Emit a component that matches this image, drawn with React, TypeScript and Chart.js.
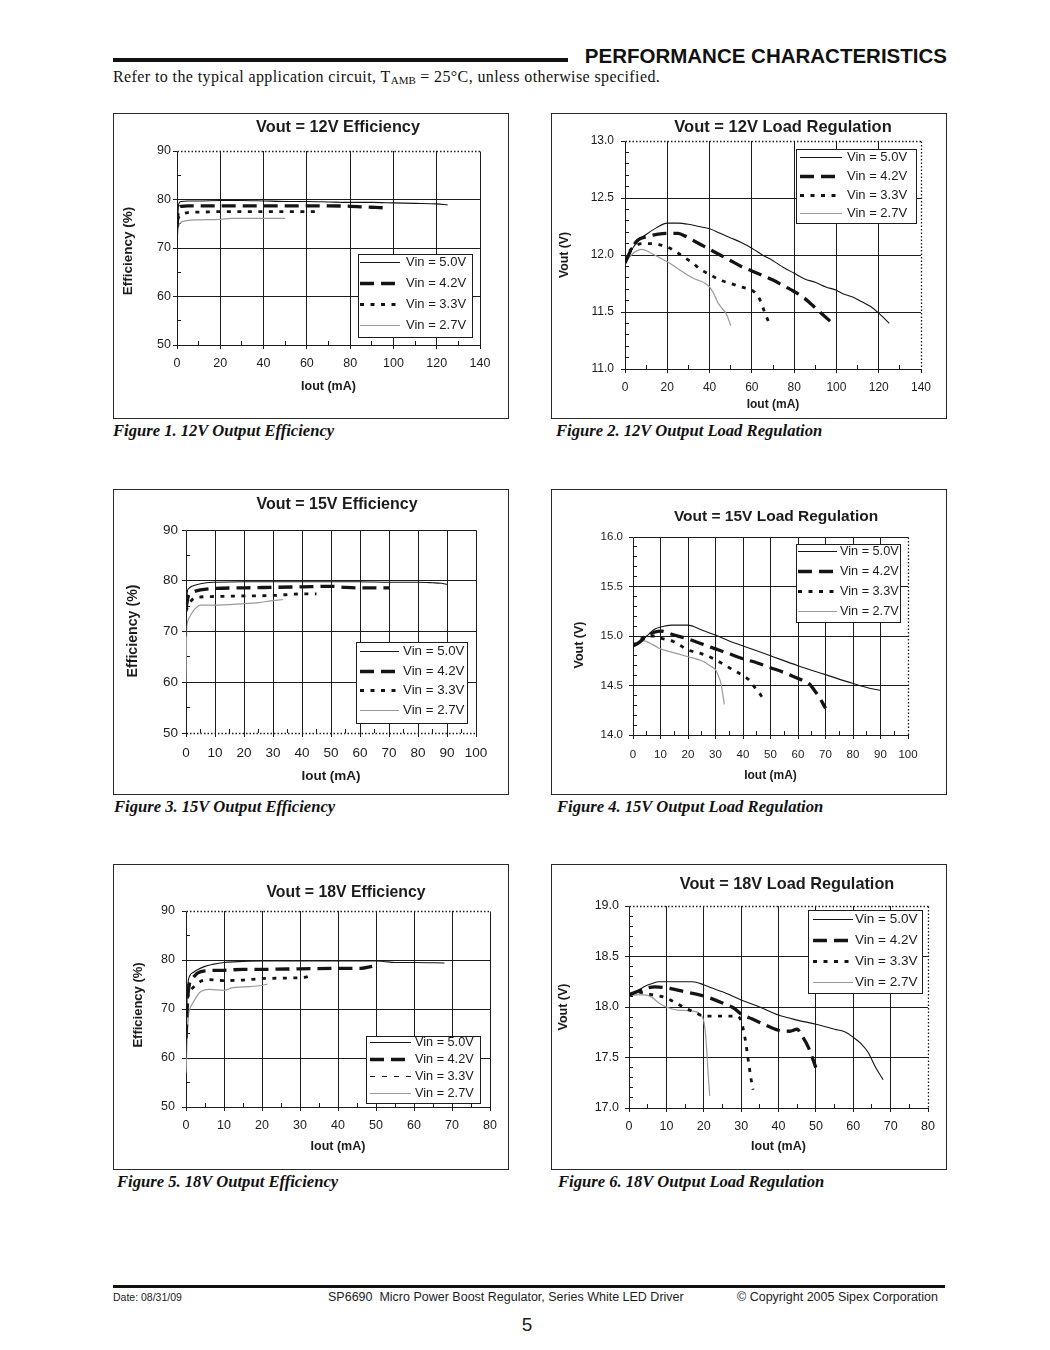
import React, { useEffect, useRef } from "react";
import { Chart, registerables } from "chart.js";

Chart.register(...registerables);

const SANS = '"Liberation Sans", Arial, Helvetica, sans-serif';
const SERIF = '"Liberation Serif", "Times New Roman", Times, serif';
const INK = "#1c1c1c";

// ---------- legend labels ----------
const SERIES_LABELS = ["Vin = 5.0V", "Vin = 4.2V", "Vin = 3.3V", "Vin = 2.7V"];

// ---------- Figure 1: Vout = 12V Efficiency ----------
const f1Vin50Iout = [0, 0.2, 0.5, 1, 2, 5, 10, 20, 30, 40, 50, 60, 70, 80, 90, 100, 110, 120, 125];
const f1Vin50Eff = [64, 72, 77.5, 79.3, 79.6, 79.7, 79.7, 79.8, 79.8, 79.7, 79.6, 79.6, 79.5, 79.4, 79.4, 79.3, 79.2, 79.1, 78.9];
const f1Vin42Iout = [0, 0.3, 0.6, 1, 2, 5, 10, 20, 30, 40, 50, 60, 70, 80, 85, 90, 95, 98];
const f1Vin42Eff = [74.3, 76.5, 78, 78.4, 78.6, 78.7, 78.7, 78.7, 78.7, 78.7, 78.7, 78.7, 78.7, 78.6, 78.5, 78.4, 78.3, 78.2];
const f1Vin33Iout = [0.3, 0.6, 1, 2, 3, 5, 8, 10, 20, 30, 40, 50, 60, 65];
const f1Vin33Eff = [75.8, 76.2, 76.5, 76.9, 77.1, 77.3, 77.4, 77.4, 77.5, 77.5, 77.5, 77.5, 77.5, 77.5];
const f1Vin27Iout = [0, 0.2, 0.5, 1, 2, 3, 5, 10, 20, 25, 30, 40, 50];
const f1Vin27Eff = [69.5, 72.5, 74, 74.8, 75.3, 75.5, 75.7, 75.8, 75.9, 76.1, 76.1, 76.1, 76.1];

// ---------- Figure 2: Vout = 12V Load Regulation ----------
const f2Vin50Iout = [0, 3, 6, 10, 15, 20, 25, 30, 35, 40, 45, 50, 55, 60, 65, 70, 75, 80, 85, 90, 95, 100, 103, 108, 112, 116, 120, 125];
const f2Vin50Vout = [11.93, 12.04, 12.12, 12.18, 12.24, 12.28, 12.28, 12.27, 12.25, 12.23, 12.19, 12.15, 12.11, 12.06, 12.0, 11.95, 11.89, 11.84, 11.79, 11.76, 11.72, 11.69, 11.66, 11.63, 11.59, 11.55, 11.49, 11.4];
const f2Vin42Iout = [0, 3, 6, 10, 15, 20, 25, 28, 32, 36, 40, 45, 50, 55, 60, 65, 70, 75, 80, 85, 88, 91, 94, 97];
const f2Vin42Vout = [11.93, 12.05, 12.13, 12.16, 12.18, 12.19, 12.19, 12.17, 12.13, 12.09, 12.05, 12.0, 11.95, 11.9, 11.86, 11.82, 11.78, 11.73, 11.68, 11.62, 11.57, 11.52, 11.47, 11.42];
const f2Vin33Iout = [0, 2, 5, 8, 12, 16, 20, 24, 28, 32, 36, 40, 45, 50, 55, 60, 62, 64, 66, 68];
const f2Vin33Vout = [11.95, 12.03, 12.08, 12.1, 12.1, 12.09, 12.07, 12.03, 11.98, 11.93, 11.87, 11.83, 11.78, 11.75, 11.72, 11.69, 11.66, 11.6, 11.5, 11.41];
const f2Vin27Iout = [0, 3, 5, 8, 12, 16, 20, 25, 30, 33, 36, 38, 40, 42, 44, 46, 48, 50];
const f2Vin27Vout = [11.93, 12.0, 12.03, 12.05, 12.02, 11.98, 11.94, 11.88, 11.82, 11.79, 11.77, 11.75, 11.72, 11.66, 11.58, 11.53, 11.48, 11.38];

// ---------- Figure 3: Vout = 15V Efficiency ----------
const f3Vin50Iout = [0, 0.2, 0.5, 1, 2, 3, 5, 7, 10, 20, 30, 40, 50, 60, 70, 80, 85, 88, 90];
const f3Vin50Eff = [69, 75, 78, 78.5, 78.9, 79.1, 79.4, 79.6, 79.7, 79.8, 79.8, 79.8, 79.8, 79.8, 79.7, 79.7, 79.6, 79.5, 79.3];
const f3Vin42Iout = [0, 0.3, 0.6, 1, 2, 3, 5, 10, 20, 30, 40, 50, 55, 60, 70];
const f3Vin42Eff = [74.5, 75.5, 76.5, 77.2, 77.6, 77.9, 78.2, 78.5, 78.6, 78.7, 78.8, 78.9, 78.7, 78.6, 78.6];
const f3Vin33Iout = [0, 0.5, 1, 2, 3, 5, 10, 20, 30, 40, 45];
const f3Vin33Eff = [74, 74.8, 75.3, 76.2, 76.6, 76.8, 76.9, 77.0, 77.1, 77.4, 77.4];
const f3Vin27Iout = [0, 0.2, 0.5, 1, 2, 3, 5, 10, 20, 25, 30, 33.5];
const f3Vin27Eff = [60, 70, 71.8, 72.6, 73.6, 74.4, 75.2, 75.2, 75.5, 75.7, 76.1, 76.3];

// ---------- Figure 4: Vout = 15V Load Regulation ----------
const f4Vin50Iout = [0, 2, 5, 8, 10, 14, 20, 25, 30, 35, 40, 50, 60, 70, 80, 85, 90];
const f4Vin50Vout = [14.9, 14.92, 15.0, 15.07, 15.09, 15.11, 15.11, 15.06, 15.01, 14.95, 14.9, 14.8, 14.7, 14.61, 14.52, 14.48, 14.45];
const f4Vin42Iout = [0, 2, 5, 8, 10, 15, 20, 25, 30, 35, 40, 45, 50, 55, 60, 62, 64, 66, 68, 70];
const f4Vin42Vout = [14.9, 14.93, 15.0, 15.04, 15.05, 15.01, 14.97, 14.92, 14.87, 14.82, 14.77, 14.73, 14.68, 14.63, 14.57, 14.55, 14.52, 14.45, 14.37, 14.27];
const f4Vin33Iout = [0, 2, 5, 8, 10, 15, 20, 25, 30, 35, 40, 42, 44, 46, 47];
const f4Vin33Vout = [14.9, 14.95, 15.0, 15.0, 14.98, 14.94, 14.86, 14.82, 14.76, 14.68, 14.6, 14.56, 14.49, 14.42, 14.38];
const f4Vin27Iout = [0, 2, 4, 6, 8, 10, 15, 20, 25, 28, 30, 31, 32, 32.6, 33.2];
const f4Vin27Vout = [14.9, 14.93, 14.95, 14.93, 14.9, 14.87, 14.83, 14.79, 14.75, 14.7, 14.66, 14.6, 14.52, 14.42, 14.31];

// ---------- Figure 5: Vout = 18V Efficiency ----------
const f5Vin50Iout = [0, 0.2, 0.5, 1, 2, 3, 5, 7, 10, 15, 20, 30, 40, 50, 52, 55, 60, 68];
const f5Vin50Eff = [60, 70, 75, 76.8, 77.5, 78, 78.7, 79.1, 79.5, 79.7, 79.8, 79.8, 79.8, 79.8, 79.7, 79.5, 79.5, 79.4];
const f5Vin42Iout = [0, 0.3, 0.6, 1, 2, 3, 5, 10, 15, 20, 30, 40, 46, 49];
const f5Vin42Eff = [64, 70, 73.5, 75.5, 76.5, 77.3, 77.8, 77.9, 78.1, 78.1, 78.2, 78.3, 78.3, 78.7];
const f5Vin33Iout = [0, 0.5, 1, 2, 4, 6, 10, 15, 20, 25, 30, 32, 33];
const f5Vin33Eff = [70, 72.5, 73.5, 74.5, 75.7, 76, 75.8, 75.9, 76.2, 76.3, 76.4, 76.6, 77];
const f5Vin27Iout = [0, 0.3, 0.7, 1, 2, 3, 4, 6, 10, 11, 12, 15, 20, 21.5];
const f5Vin27Eff = [57, 64, 69, 70, 71.5, 72.8, 73.6, 74, 73.8, 74, 74.3, 74.5, 74.8, 75.1];

// ---------- Figure 6: Vout = 18V Load Regulation ----------
const f6Vin50Iout = [0, 2, 4, 6, 8, 10, 17, 20, 22, 25, 30, 35, 40, 45, 50, 55, 58, 60, 62, 64, 66, 68];
const f6Vin50Vout = [18.12, 18.15, 18.2, 18.23, 18.25, 18.25, 18.25, 18.22, 18.19, 18.15, 18.07, 18.0, 17.92, 17.87, 17.83, 17.78, 17.75, 17.7, 17.64, 17.55, 17.4, 17.28];
const f6Vin42Iout = [0, 2, 4, 7, 10, 15, 20, 25, 28, 30, 33, 36, 40, 43, 45, 46, 48, 50];
const f6Vin42Vout = [18.12, 18.15, 18.18, 18.2, 18.19, 18.15, 18.11, 18.04, 17.99, 17.93, 17.88, 17.83, 17.77, 17.76, 17.78, 17.73, 17.6, 17.4];
const f6Vin33Iout = [0, 2, 5, 8, 10, 12, 15, 18, 20, 25, 29, 30, 31, 32, 32.6, 33.2];
const f6Vin33Vout = [18.12, 18.15, 18.13, 18.11, 18.09, 18.05, 17.99, 17.94, 17.91, 17.91, 17.91, 17.86, 17.7, 17.45, 17.3, 17.18];
const f6Vin27Iout = [0, 2, 4, 6, 8, 10, 13, 17, 19, 20, 20.5, 20.8, 21.1, 21.4, 21.6];
const f6Vin27Vout = [18.11, 18.12, 18.12, 18.1, 18.04, 18.0, 17.97, 17.96, 17.93, 17.86, 17.72, 17.57, 17.38, 17.22, 17.12];

// ---------- styles ----------
const SERIES_STYLES = [
  { color: "#141414", width: 1.1, dash: [] as number[] },
  { color: "#141414", width: 3.3, dash: [14, 7] },
  { color: "#141414", width: 2.8, dash: [4, 6.5] },
  { color: "#9a9a9a", width: 1.2, dash: [] as number[] },
];

type Edge = "solid" | "dot";
interface LegendSpec {
  l: number; t: number; r: number; b: number;
  row0: number; gap: number; s0: number; s1: number; tx: number; size: number;
  thinDash3?: boolean;
}
interface Spec {
  id: string;
  left: number; top: number;
  area: { l: number; t: number; r: number; b: number };
  title: string; titleX: number; titleY: number; titleSize: number;
  yTitle: string; yTitleX: number; yTitleY: number; yTitleSize: number;
  xTitleY: number; xTitleSize: number;
  tickSize: number; yTickPad: number; xTickPad: number;
  xMax: number; xStep: number; xMinor: number;
  yMin: number; yMax: number; yStep: number; yMinor: number; yDec: number;
  edges: { top: Edge; right: Edge; bottom: Edge };
  legend: LegendSpec;
  xs: number[][]; ys: number[][];
}

const W = 396;
const H = 306;

const SPECS: Spec[] = [
  {
    id: "f1", left: 113, top: 113,
    area: { l: 64, t: 38, r: 367, b: 232 },
    title: "Vout = 12V Efficiency", titleX: 225, titleY: 15, titleSize: 16.3,
    yTitle: "Efficiency (%)", yTitleX: 15, yTitleY: 138, yTitleSize: 13.5,
    xTitleY: 274, xTitleSize: 12.5,
    tickSize: 12.5, yTickPad: 2, xTickPad: 7.5,
    xMax: 140, xStep: 20, xMinor: 10,
    yMin: 50, yMax: 90, yStep: 10, yMinor: 5, yDec: 0,
    edges: { top: "dot", right: "solid", bottom: "solid" },
    legend: { l: 245, t: 141, r: 359, b: 224, row0: 149, gap: 21, s0: 247, s1: 287, tx: 293, size: 13 },
    xs: [f1Vin50Iout, f1Vin42Iout, f1Vin33Iout, f1Vin27Iout],
    ys: [f1Vin50Eff, f1Vin42Eff, f1Vin33Eff, f1Vin27Eff],
  },
  {
    id: "f2", left: 551, top: 113,
    area: { l: 74, t: 28, r: 370, b: 256 },
    title: "Vout = 12V Load Regulation", titleX: 232, titleY: 14, titleSize: 16.5,
    yTitle: "Vout (V)", yTitleX: 14, yTitleY: 142, yTitleSize: 12.3,
    xTitleY: 292, xTitleSize: 12,
    tickSize: 12, yTickPad: 7, xTickPad: 7.8,
    xMax: 140, xStep: 20, xMinor: 10,
    yMin: 11, yMax: 13, yStep: 0.5, yMinor: 0.1, yDec: 1,
    edges: { top: "dot", right: "dot", bottom: "solid" },
    legend: { l: 245, t: 36, r: 365, b: 110, row0: 44, gap: 18.8, s0: 249, s1: 291, tx: 296, size: 13 },
    xs: [f2Vin50Iout, f2Vin42Iout, f2Vin33Iout, f2Vin27Iout],
    ys: [f2Vin50Vout, f2Vin42Vout, f2Vin33Vout, f2Vin27Vout],
  },
  {
    id: "f3", left: 113, top: 489,
    area: { l: 73, t: 41, r: 363, b: 244 },
    title: "Vout = 15V Efficiency", titleX: 224, titleY: 16, titleSize: 16,
    yTitle: "Efficiency (%)", yTitleX: 20, yTitleY: 142, yTitleSize: 14.2,
    xTitleY: 287, xTitleSize: 13.5,
    tickSize: 13.5, yTickPad: 4, xTickPad: 7.9,
    xMax: 100, xStep: 10, xMinor: 5,
    yMin: 50, yMax: 90, yStep: 10, yMinor: 5, yDec: 0,
    edges: { top: "solid", right: "solid", bottom: "dot" },
    legend: { l: 243, t: 153, r: 354, b: 234, row0: 162, gap: 19.7, s0: 247, s1: 286, tx: 290, size: 13.3 },
    xs: [f3Vin50Iout, f3Vin42Iout, f3Vin33Iout, f3Vin27Iout],
    ys: [f3Vin50Eff, f3Vin42Eff, f3Vin33Eff, f3Vin27Eff],
  },
  {
    id: "f4", left: 551, top: 489,
    area: { l: 82, t: 48, r: 357, b: 246 },
    title: "Vout = 15V Load Regulation", titleX: 225, titleY: 28, titleSize: 15.5,
    yTitle: "Vout (V)", yTitleX: 29, yTitleY: 156, yTitleSize: 12.5,
    xTitleY: 287, xTitleSize: 12,
    tickSize: 11.5, yTickPad: 6, xTickPad: 9,
    xMax: 100, xStep: 10, xMinor: 5,
    yMin: 14, yMax: 16, yStep: 0.5, yMinor: 0.1, yDec: 1,
    edges: { top: "solid", right: "dot", bottom: "solid" },
    legend: { l: 245, t: 55, r: 349, b: 133, row0: 62, gap: 20, s0: 247, s1: 286, tx: 289, size: 12.7 },
    xs: [f4Vin50Iout, f4Vin42Iout, f4Vin33Iout, f4Vin27Iout],
    ys: [f4Vin50Vout, f4Vin42Vout, f4Vin33Vout, f4Vin27Vout],
  },
  {
    id: "f5", left: 113, top: 864,
    area: { l: 73, t: 47, r: 377, b: 243 },
    title: "Vout = 18V Efficiency", titleX: 233, titleY: 29, titleSize: 15.8,
    yTitle: "Efficiency (%)", yTitleX: 25, yTitleY: 141, yTitleSize: 13,
    xTitleY: 283, xTitleSize: 12.5,
    tickSize: 12.5, yTickPad: 7, xTickPad: 7.5,
    xMax: 80, xStep: 10, xMinor: 5,
    yMin: 50, yMax: 90, yStep: 10, yMinor: 5, yDec: 0,
    edges: { top: "dot", right: "solid", bottom: "solid" },
    legend: { l: 253, t: 172, r: 367, b: 239, row0: 178, gap: 17, s0: 257, s1: 298, tx: 302, size: 12.7, thinDash3: true },
    xs: [f5Vin50Iout, f5Vin42Iout, f5Vin33Iout, f5Vin27Iout],
    ys: [f5Vin50Eff, f5Vin42Eff, f5Vin33Eff, f5Vin27Eff],
  },
  {
    id: "f6", left: 551, top: 864,
    area: { l: 78, t: 42, r: 377, b: 244 },
    title: "Vout = 18V Load Regulation", titleX: 236, titleY: 21, titleSize: 16.3,
    yTitle: "Vout (V)", yTitleX: 13, yTitleY: 143, yTitleSize: 12.5,
    xTitleY: 283, xTitleSize: 12.5,
    tickSize: 12.5, yTickPad: 6, xTickPad: 7.5,
    xMax: 80, xStep: 10, xMinor: 5,
    yMin: 17, yMax: 19, yStep: 0.5, yMinor: 0.1, yDec: 1,
    edges: { top: "dot", right: "dot", bottom: "solid" },
    legend: { l: 257, t: 46, r: 371, b: 129, row0: 55, gap: 21, s0: 262, s1: 302, tx: 304, size: 13.5 },
    xs: [f6Vin50Iout, f6Vin42Iout, f6Vin33Iout, f6Vin27Iout],
    ys: [f6Vin50Vout, f6Vin42Vout, f6Vin33Vout, f6Vin27Vout],
  },
];

const alignPx = (p: number) => Math.round(p - 0.5) + 0.5;

function makeDeco(spec: Spec) {
  return {
    id: "deco_" + spec.id,
    beforeDatasetsDraw(chart: any) {
      const { ctx, chartArea: ca, scales } = chart;
      const xs = scales.x;
      const ys = scales.y;
      ctx.save();
      ctx.strokeStyle = INK;
      ctx.lineWidth = 1;
      ctx.setLineDash([]);
      ctx.beginPath();
      const ny = Math.round((spec.yMax - spec.yMin) / spec.yMinor);
      const ky = Math.round(spec.yStep / spec.yMinor);
      for (let i = 1; i < ny; i++) {
        if (i % ky === 0) continue;
        const py = alignPx(ys.getPixelForValue(spec.yMin + i * spec.yMinor));
        ctx.moveTo(ca.left, py);
        ctx.lineTo(ca.left + 4, py);
      }
      const nx = Math.round(spec.xMax / spec.xMinor);
      const kx = Math.round(spec.xStep / spec.xMinor);
      for (let i = 1; i < nx; i++) {
        if (i % kx === 0) continue;
        const px = alignPx(xs.getPixelForValue(i * spec.xMinor));
        ctx.moveTo(px, ca.bottom);
        ctx.lineTo(px, ca.bottom - 4);
      }
      ctx.stroke();
      const L = alignPx(ca.left);
      const R = alignPx(ca.right);
      const T = alignPx(ca.top);
      const B = alignPx(ca.bottom);
      const edge = (x1: number, y1: number, x2: number, y2: number, style: Edge) => {
        ctx.beginPath();
        if (style === "dot") {
          ctx.setLineDash([1.5, 2]);
          ctx.lineWidth = 1.3;
        } else {
          ctx.setLineDash([]);
          ctx.lineWidth = 1;
        }
        ctx.moveTo(x1, y1);
        ctx.lineTo(x2, y2);
        ctx.stroke();
      };
      edge(L, T, R, T, spec.edges.top);
      edge(R, T, R, B, spec.edges.right);
      edge(L, B, R, B, spec.edges.bottom);
      edge(L, T, L, B, "solid");
      ctx.restore();
    },
    afterDraw(chart: any) {
      const { ctx } = chart;
      const lg = spec.legend;
      ctx.save();
      // legend box
      ctx.setLineDash([]);
      ctx.fillStyle = "#ffffff";
      ctx.fillRect(lg.l, lg.t, lg.r - lg.l, lg.b - lg.t);
      ctx.strokeStyle = INK;
      ctx.lineWidth = 1;
      ctx.strokeRect(lg.l + 0.5, lg.t + 0.5, lg.r - lg.l, lg.b - lg.t);
      ctx.font = `${lg.size}px ${SANS}`;
      ctx.textBaseline = "middle";
      ctx.textAlign = "left";
      chart.data.datasets.forEach((ds: any, i: number) => {
        const y = Math.round(lg.row0 + i * lg.gap) + 0.5;
        ctx.beginPath();
        if (lg.thinDash3 && i === 2) {
          ctx.lineWidth = 1.2;
          ctx.setLineDash([5, 7]);
        } else {
          ctx.lineWidth = ds.borderWidth;
          ctx.setLineDash(ds.borderDash || []);
        }
        ctx.strokeStyle = ds.borderColor;
        ctx.moveTo(lg.s0, y);
        ctx.lineTo(lg.s1, y);
        ctx.stroke();
        ctx.fillStyle = INK;
        ctx.fillText(ds.label, lg.tx, y);
      });
      ctx.setLineDash([]);
      // chart title
      ctx.font = `bold ${spec.titleSize}px ${SANS}`;
      ctx.textAlign = "center";
      ctx.fillStyle = INK;
      ctx.fillText(spec.title, spec.titleX, spec.titleY);
      // y axis title (rotated)
      ctx.save();
      ctx.translate(spec.yTitleX, spec.yTitleY);
      ctx.rotate(-Math.PI / 2);
      ctx.font = `bold ${spec.yTitleSize}px ${SANS}`;
      ctx.fillText(spec.yTitle, 0, 0);
      ctx.restore();
      // outer frame
      ctx.strokeStyle = "#2a2a2a";
      ctx.lineWidth = 1;
      ctx.strokeRect(0.5, 0.5, W - 1, H - 1);
      ctx.restore();
    },
  };
}

function PerfChart({ spec }: { spec: Spec }) {
  const ref = useRef<HTMLCanvasElement | null>(null);
  useEffect(() => {
    const canvas = ref.current;
    if (!canvas) return;
    const a = spec.area;
    const xlh = spec.xTitleSize * 1.2;
    const datasets = spec.xs.map((xArr, si) => ({
      label: SERIES_LABELS[si],
      data: xArr.map((x, i) => ({ x, y: spec.ys[si][i] })),
      borderColor: SERIES_STYLES[si].color,
      borderWidth: SERIES_STYLES[si].width,
      borderDash: SERIES_STYLES[si].dash,
      borderCapStyle: "butt",
      borderJoinStyle: "round",
      pointRadius: 0,
      fill: false,
      cubicInterpolationMode: "monotone",
    }));
    const gridColor = (min: number, max: number) => (c: any) => {
      const v = c.tick ? c.tick.value : NaN;
      if (Math.abs(v - min) < 1e-9 || Math.abs(v - max) < 1e-9) return "rgba(0,0,0,0)";
      return INK;
    };
    const chart = new Chart(canvas, {
      type: "line",
      data: { datasets: datasets as any },
      options: {
        animation: false,
        responsive: false,
        maintainAspectRatio: false,
        devicePixelRatio: 1,
        events: [],
        layout: { padding: { left: 0, top: a.t, right: W - a.r, bottom: 0 } },
        plugins: {
          legend: { display: false },
          tooltip: { enabled: false },
          title: { display: false },
        },
        scales: {
          x: {
            type: "linear",
            min: 0,
            max: spec.xMax,
            afterFit: (s: any) => {
              s.height = H - a.b;
            },
            ticks: {
              stepSize: spec.xStep,
              autoSkip: false,
              maxRotation: 0,
              padding: spec.xTickPad,
              color: INK,
              font: { size: spec.tickSize, family: SANS },
            },
            grid: {
              color: gridColor(0, spec.xMax),
              lineWidth: 1,
              tickLength: 4,
              tickColor: INK,
              drawTicks: true,
            },
            border: { display: false },
            title: {
              display: true,
              text: "Iout (mA)",
              color: INK,
              font: { size: spec.xTitleSize, weight: "bold", family: SANS },
              padding: { top: 0, bottom: H - spec.xTitleY - xlh / 2 },
            },
          },
          y: {
            type: "linear",
            min: spec.yMin,
            max: spec.yMax,
            afterFit: (s: any) => {
              s.width = a.l;
            },
            ticks: {
              stepSize: spec.yStep,
              autoSkip: false,
              padding: spec.yTickPad,
              color: INK,
              font: { size: spec.tickSize, family: SANS },
              callback: (v: any) => Number(v).toFixed(spec.yDec),
            },
            grid: {
              color: gridColor(spec.yMin, spec.yMax),
              lineWidth: 1,
              tickLength: 4,
              tickColor: INK,
              drawTicks: true,
            },
            border: { display: false },
            title: { display: false },
          },
        },
      } as any,
      plugins: [makeDeco(spec) as any],
    });
    return () => chart.destroy();
  }, [spec]);
  return (
    <canvas
      ref={ref}
      width={W}
      height={H}
      style={{ position: "absolute", left: spec.left, top: spec.top, width: W, height: H }}
    />
  );
}

const CAPTIONS = [
  { text: "Figure 1. 12V Output Efficiency", x: 113, y: 431 },
  { text: "Figure 2. 12V Output Load Regulation", x: 556, y: 431 },
  { text: "Figure 3. 15V Output Efficiency", x: 114, y: 807 },
  { text: "Figure 4. 15V Output Load Regulation", x: 557, y: 807 },
  { text: "Figure 5. 18V Output Efficiency", x: 117, y: 1182 },
  { text: "Figure 6. 18V Output Load Regulation", x: 558, y: 1182 },
];

export default function App() {
  return (
    <div style={{ position: "absolute", left: 0, top: 0, width: 1050, height: 1350, background: "#fff", color: INK }}>
      {/* header */}
      <div style={{ position: "absolute", left: 113, top: 58, width: 455, height: 4, background: "#111" }} />
      <div
        style={{
          position: "absolute", left: 500, top: 44, width: 447, height: 24, lineHeight: "24px",
          textAlign: "right", fontFamily: SANS, fontWeight: "bold", fontSize: 20.5, color: "#111",
          whiteSpace: "nowrap",
        }}
      >
        PERFORMANCE CHARACTERISTICS
      </div>
      <div
        style={{
          position: "absolute", left: 113, top: 67, height: 20, lineHeight: "20px",
          fontFamily: SERIF, fontSize: 16, letterSpacing: 0.4, whiteSpace: "nowrap", color: "#111",
        }}
      >
        Refer to the typical application circuit, T
        <span style={{ fontSize: 11, position: "relative", top: 2, letterSpacing: 0 }}>AMB</span>
        {" = 25°C, unless otherwise specified."}
      </div>

      {SPECS.map((s) => (
        <PerfChart key={s.id} spec={s} />
      ))}

      {CAPTIONS.map((c) => (
        <div
          key={c.text}
          style={{
            position: "absolute", left: c.x, top: c.y - 10, height: 20, lineHeight: "20px",
            fontFamily: SERIF, fontStyle: "italic", fontWeight: "bold", fontSize: 16.6,
            whiteSpace: "nowrap", color: "#111",
          }}
        >
          {c.text}
        </div>
      ))}

      {/* footer */}
      <div style={{ position: "absolute", left: 113, top: 1285, width: 832, height: 3, background: "#111" }} />
      <div style={{ position: "absolute", left: 113, top: 1290, lineHeight: "14px", fontFamily: SANS, fontSize: 10.5, whiteSpace: "nowrap" }}>
        Date: 08/31/09
      </div>
      <div style={{ position: "absolute", left: 328, top: 1290, lineHeight: "14px", fontFamily: SANS, fontSize: 12.5, whiteSpace: "pre" }}>
        {"SP6690  Micro Power Boost Regulator, Series White LED Driver"}
      </div>
      <div
        style={{
          position: "absolute", left: 638, top: 1290, width: 300, lineHeight: "14px", textAlign: "right",
          fontFamily: SANS, fontSize: 12.5, whiteSpace: "nowrap",
        }}
      >
        © Copyright 2005 Sipex Corporation
      </div>
      <div
        style={{
          position: "absolute", left: 497, top: 1314, width: 60, lineHeight: "22px", textAlign: "center",
          fontFamily: SANS, fontSize: 19,
        }}
      >
        5
      </div>
    </div>
  );
}
